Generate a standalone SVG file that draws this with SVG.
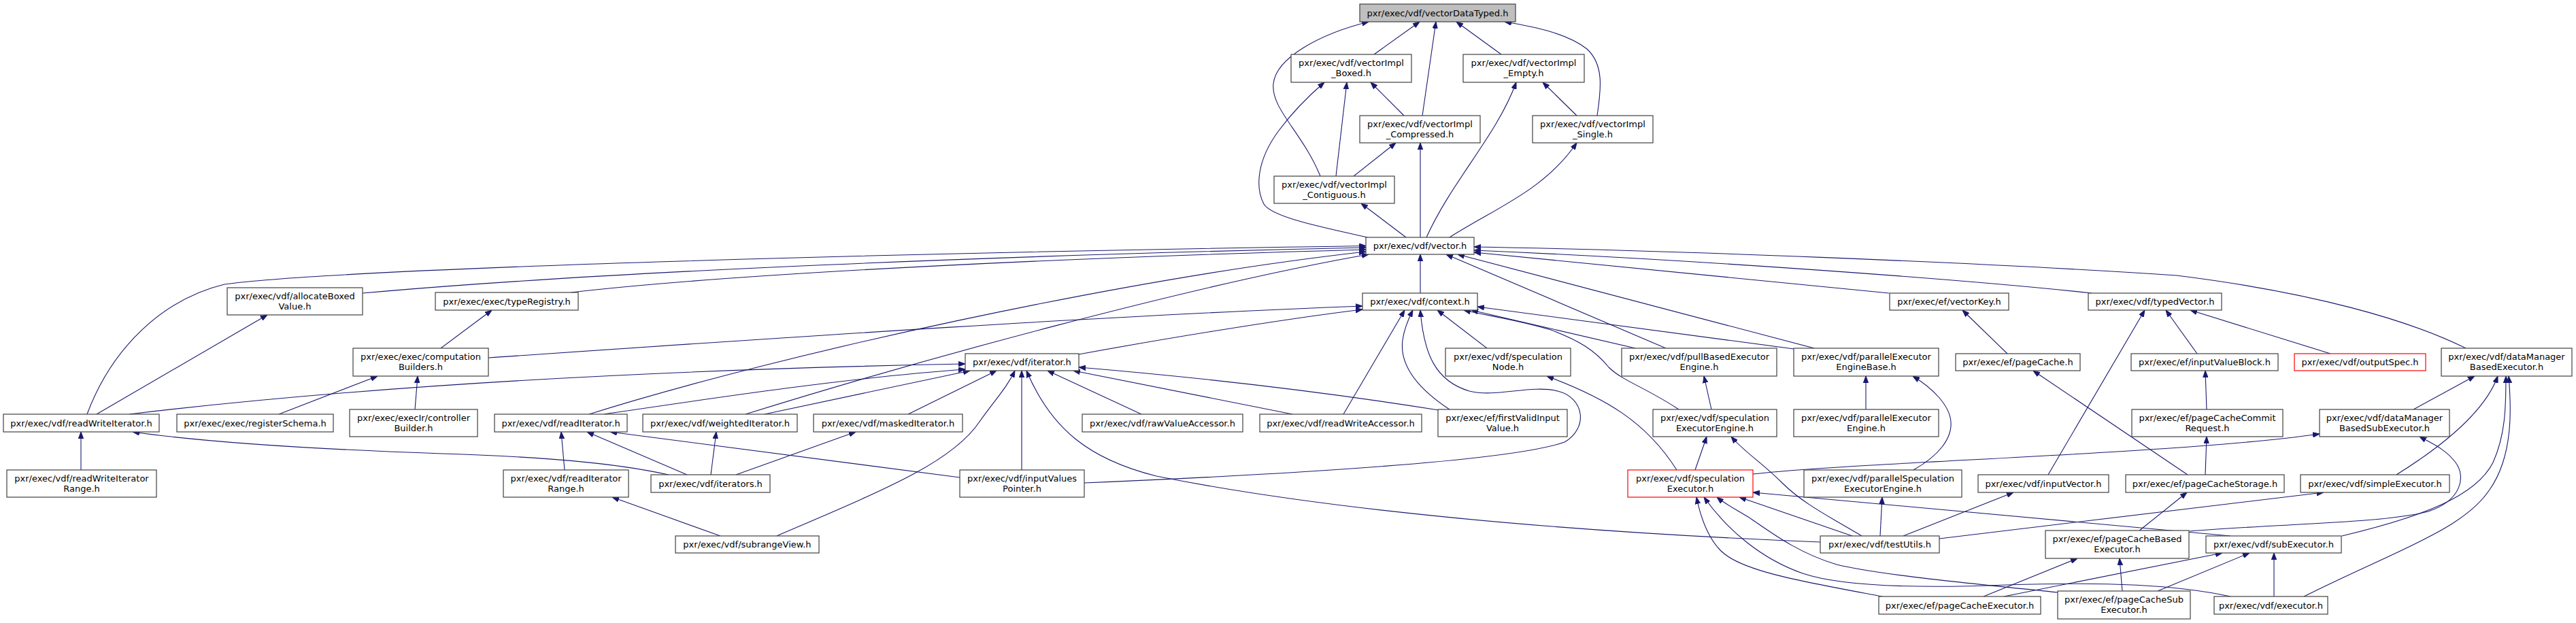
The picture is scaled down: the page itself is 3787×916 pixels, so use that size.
<svg xmlns="http://www.w3.org/2000/svg" width="3787" height="916" viewBox="0 0 3787 916">
<defs>
<marker id="a" markerWidth="10" markerHeight="8" refX="10" refY="4" orient="auto" markerUnits="userSpaceOnUse" viewBox="0 0 10 8"><path d="M0,0.3 L10,4 L0,7.7 z" fill="#191970" stroke="#191970" stroke-width="1"/></marker>
</defs>
<style>
.n rect{fill:#fff;stroke:#404040;stroke-width:1.2}
.root rect{fill:#bfbfbf}
.red rect{stroke:#ff0000}
text{font-family:"DejaVu Sans","Liberation Sans",sans-serif;font-size:13px;text-anchor:middle;fill:#000}
.e path{fill:none;stroke:#191970;stroke-width:1.1;marker-end:url(#a)}
</style>
<rect x="0" y="0" width="3787" height="916" fill="#fff"/>
<g class="e" id="edges">
<path d="M2020,80 L2087,32"/>
<path d="M2091,170 L2111,32"/>
<path d="M2207,80 L2141,32"/>
<path d="M2348,170 C2354,130 2358,95 2333,72 C2305,50 2260,40 2212,32"/>
<path d="M1941,259 C1915,195 1868,160 1872,123 C1876,85 1940,50 2012,32"/>
<path d="M2064,170 L2015,121"/>
<path d="M1964,259 L1980,121"/>
<path d="M1990,259 L2052,210"/>
<path d="M2318,170 L2268,121"/>
<path d="M2010,349 C1950,335 1870,320 1858,300 C1845,275 1848,235 1880,192 C1900,165 1925,140 1947,121"/>
<path d="M2067,349 L2001,299"/>
<path d="M2088,349 L2088,210"/>
<path d="M2097,349 C2135,265 2200,200 2229,121"/>
<path d="M2131,349 C2200,305 2270,280 2318,210"/>
<path d="M128,609 C165,510 240,440 330,418 C500,395 1300,372 2008,361.5"/>
<path d="M533,431 C900,398 1500,375 2008,364"/>
<path d="M839,430 C1100,400 1600,378 2008,367"/>
<path d="M866,609 C1150,520 1650,410 2008,370"/>
<path d="M1096,609 C1350,530 1750,420 2012,374"/>
<path d="M2088,431 L2088,374"/>
<path d="M2449,512 L2126,374"/>
<path d="M2667,512 L2143,374"/>
<path d="M2777,431 L2167,371"/>
<path d="M3075,431 C2900,412 2500,382 2167,368"/>
<path d="M3625,512 C3540,470 3400,430 3200,405 C2900,385 2450,368 2167,363"/>
<path d="M718,526 C1100,500 1600,465 2003,450"/>
<path d="M1586,521 C1700,500 1880,470 2003,455"/>
<path d="M1975,609 L2065,456"/>
<path d="M2131,602 C2075,565 2058,530 2062,500 C2064,485 2070,470 2077,456"/>
<path d="M1594,710 C1950,695 2230,675 2300,650 C2335,630 2330,585 2290,575 C2250,565 2200,585 2160,575 C2110,560 2093,520 2088,456"/>
<path d="M2186,512 L2113,456"/>
<path d="M2468,602 C2420,570 2385,560 2365,540 C2345,515 2320,500 2280,485 C2230,470 2190,465 2152,456"/>
<path d="M2404,512 L2163,456"/>
<path d="M2637,513 L2172,451"/>
<path d="M190,609 C500,572 900,545 1419,535"/>
<path d="M888,609 C1050,585 1250,555 1419,543"/>
<path d="M1124,609 L1426,545"/>
<path d="M1335,609 L1465,545"/>
<path d="M1142,788 C1300,720 1400,680 1440,620 C1465,585 1480,570 1492,545"/>
<path d="M1502,691 L1502,545"/>
<path d="M2676,797 C2300,782 1950,750 1700,700 C1600,675 1545,630 1509,545"/>
<path d="M1678,609 L1540,545"/>
<path d="M1900,609 L1578,545"/>
<path d="M2115,603 C1990,583 1800,558 1586,540"/>
<path d="M142,609 L393,463"/>
<path d="M648,512 L723,456"/>
<path d="M410,609 L555,553"/>
<path d="M610,602 L614,553"/>
<path d="M119,691 L119,635"/>
<path d="M830,691 L825,635"/>
<path d="M983,698 C900,680 800,672 650,667 C450,660 300,650 195,635"/>
<path d="M1010,698 L863,635"/>
<path d="M1045,698 L1053,635"/>
<path d="M1082,698 L1258,635"/>
<path d="M1411,702 L897,635"/>
<path d="M1059,788 L900,731"/>
<path d="M2465,691 C2420,620 2360,585 2274,553"/>
<path d="M2516,602 L2505,553"/>
<path d="M2743,602 L2743,553"/>
<path d="M2813,691 C2850,670 2870,645 2868,620 C2866,595 2840,570 2812,553"/>
<path d="M2492,691 L2509,642"/>
<path d="M2737,788 C2690,760 2650,740 2620,710 C2590,680 2565,665 2545,642"/>
<path d="M2577,697 C2750,678 3200,668 3410,638"/>
<path d="M2723,788 L2557,731"/>
<path d="M2764,788 L2767,731"/>
<path d="M3279,788 L2577,724"/>
<path d="M2767,877 C2650,855 2560,840 2530,810 C2510,790 2500,760 2494,731"/>
<path d="M3025,871 C2900,858 2760,845 2700,830 C2640,812 2600,780 2570,760 C2550,748 2535,740 2524,731"/>
<path d="M3279,877 C3200,860 3100,855 2950,860 C2800,866 2700,860 2650,843 C2590,822 2540,780 2505,731"/>
<path d="M3548,602 L3638,553"/>
<path d="M3523,698 C3600,650 3655,600 3672,553"/>
<path d="M3443,788 C3560,760 3640,730 3665,680 C3683,640 3684,600 3684,553"/>
<path d="M3387,877 C3520,810 3620,780 3660,720 C3695,670 3692,600 3688,553"/>
<path d="M3219,781 C3350,770 3500,770 3570,752 C3620,735 3625,700 3610,680 C3595,660 3575,652 3557,642"/>
<path d="M2951,520 L2885,456"/>
<path d="M3011,698 L3153,456"/>
<path d="M3230,520 L3184,456"/>
<path d="M3426,520 L3220,456"/>
<path d="M3244,602 L3242,545"/>
<path d="M3216,698 L2989,545"/>
<path d="M3242,698 L3244,642"/>
<path d="M2798,788 L2960,724"/>
<path d="M2851,792 C3000,775 3200,750 3416,724"/>
<path d="M3144,781 L3215,724"/>
<path d="M2916,877 L3054,821"/>
<path d="M3120,869 L3116,821"/>
<path d="M2946,877 L3267,813"/>
<path d="M3172,869 L3307,813"/>
<path d="M3343,877 L3343,813"/>
</g>
<g id="vectorDataTyped" class="n root"><rect x="1999" y="6" width="229" height="26"/><text x="2113.5" y="23.5">pxr/exec/vdf/vectorDataTyped.h</text></g>
<g id="vectorImpl_Boxed" class="n"><rect x="1898" y="80" width="177" height="41"/><text x="1986.5" y="97">pxr/exec/vdf/vectorImpl</text><text x="1986.5" y="112">_Boxed.h</text></g>
<g id="vectorImpl_Empty" class="n"><rect x="2151" y="80" width="178" height="41"/><text x="2240" y="97">pxr/exec/vdf/vectorImpl</text><text x="2240" y="112">_Empty.h</text></g>
<g id="vectorImpl_Compressed" class="n"><rect x="1999" y="170" width="177" height="40"/><text x="2087.5" y="186.5">pxr/exec/vdf/vectorImpl</text><text x="2087.5" y="201.5">_Compressed.h</text></g>
<g id="vectorImpl_Single" class="n"><rect x="2253" y="170" width="177" height="40"/><text x="2341.5" y="186.5">pxr/exec/vdf/vectorImpl</text><text x="2341.5" y="201.5">_Single.h</text></g>
<g id="vectorImpl_Contiguous" class="n"><rect x="1873" y="259" width="177" height="40"/><text x="1961.5" y="275.5">pxr/exec/vdf/vectorImpl</text><text x="1961.5" y="290.5">_Contiguous.h</text></g>
<g id="vector" class="n"><rect x="2008" y="349" width="159" height="25"/><text x="2087.5" y="366">pxr/exec/vdf/vector.h</text></g>
<g id="allocateBoxedValue" class="n"><rect x="334" y="423" width="199" height="40"/><text x="433.5" y="439.5">pxr/exec/vdf/allocateBoxed</text><text x="433.5" y="454.5">Value.h</text></g>
<g id="typeRegistry" class="n"><rect x="640" y="430" width="210" height="26"/><text x="745" y="447.5">pxr/exec/exec/typeRegistry.h</text></g>
<g id="context" class="n"><rect x="2003" y="431" width="169" height="25"/><text x="2087.5" y="448">pxr/exec/vdf/context.h</text></g>
<g id="vectorKey" class="n"><rect x="2778" y="431" width="175" height="25"/><text x="2865.5" y="448">pxr/exec/ef/vectorKey.h</text></g>
<g id="typedVector" class="n"><rect x="3070" y="431" width="196" height="25"/><text x="3168" y="448">pxr/exec/vdf/typedVector.h</text></g>
<g id="computationBuilders" class="n"><rect x="519" y="512" width="199" height="41"/><text x="618.5" y="529">pxr/exec/exec/computation</text><text x="618.5" y="544">Builders.h</text></g>
<g id="iterator" class="n"><rect x="1419" y="520" width="167" height="25"/><text x="1502.5" y="537">pxr/exec/vdf/iterator.h</text></g>
<g id="speculationNode" class="n"><rect x="2125" y="512" width="184" height="41"/><text x="2217" y="529">pxr/exec/vdf/speculation</text><text x="2217" y="544">Node.h</text></g>
<g id="pullBasedExecutorEngine" class="n"><rect x="2384" y="512" width="228" height="41"/><text x="2498" y="529">pxr/exec/vdf/pullBasedExecutor</text><text x="2498" y="544">Engine.h</text></g>
<g id="parallelExecutorEngineBase" class="n"><rect x="2637" y="512" width="213" height="41"/><text x="2743.5" y="529">pxr/exec/vdf/parallelExecutor</text><text x="2743.5" y="544">EngineBase.h</text></g>
<g id="pageCache" class="n"><rect x="2875" y="520" width="183" height="25"/><text x="2966.5" y="537">pxr/exec/ef/pageCache.h</text></g>
<g id="inputValueBlock" class="n"><rect x="3133" y="520" width="216" height="25"/><text x="3241" y="537">pxr/exec/ef/inputValueBlock.h</text></g>
<g id="outputSpec" class="n red"><rect x="3373" y="520" width="193" height="25"/><text x="3469.5" y="537">pxr/exec/vdf/outputSpec.h</text></g>
<g id="dataManagerBasedExecutor" class="n"><rect x="3589" y="512" width="192" height="41"/><text x="3685" y="529">pxr/exec/vdf/dataManager</text><text x="3685" y="544">BasedExecutor.h</text></g>
<g id="readWriteIterator" class="n"><rect x="5" y="609" width="229" height="26"/><text x="119.5" y="626.5">pxr/exec/vdf/readWriteIterator.h</text></g>
<g id="registerSchema" class="n"><rect x="260" y="609" width="230" height="26"/><text x="375" y="626.5">pxr/exec/exec/registerSchema.h</text></g>
<g id="controllerBuilder" class="n"><rect x="514" y="602" width="188" height="40"/><text x="608" y="618.5">pxr/exec/execIr/controller</text><text x="608" y="633.5">Builder.h</text></g>
<g id="readIterator" class="n"><rect x="727" y="609" width="195" height="26"/><text x="824.5" y="626.5">pxr/exec/vdf/readIterator.h</text></g>
<g id="weightedIterator" class="n"><rect x="945" y="609" width="227" height="26"/><text x="1058.5" y="626.5">pxr/exec/vdf/weightedIterator.h</text></g>
<g id="maskedIterator" class="n"><rect x="1196" y="609" width="219" height="26"/><text x="1305.5" y="626.5">pxr/exec/vdf/maskedIterator.h</text></g>
<g id="rawValueAccessor" class="n"><rect x="1591" y="609" width="236" height="26"/><text x="1709" y="626.5">pxr/exec/vdf/rawValueAccessor.h</text></g>
<g id="readWriteAccessor" class="n"><rect x="1852" y="609" width="238" height="26"/><text x="1971" y="626.5">pxr/exec/vdf/readWriteAccessor.h</text></g>
<g id="firstValidInputValue" class="n"><rect x="2114" y="602" width="190" height="40"/><text x="2209" y="618.5">pxr/exec/ef/firstValidInput</text><text x="2209" y="633.5">Value.h</text></g>
<g id="speculationExecutorEngine" class="n"><rect x="2430" y="602" width="182" height="40"/><text x="2521" y="618.5">pxr/exec/vdf/speculation</text><text x="2521" y="633.5">ExecutorEngine.h</text></g>
<g id="parallelExecutorEngine" class="n"><rect x="2637" y="602" width="213" height="40"/><text x="2743.5" y="618.5">pxr/exec/vdf/parallelExecutor</text><text x="2743.5" y="633.5">Engine.h</text></g>
<g id="pageCacheCommitRequest" class="n"><rect x="3134" y="602" width="222" height="40"/><text x="3245" y="618.5">pxr/exec/ef/pageCacheCommit</text><text x="3245" y="633.5">Request.h</text></g>
<g id="dataManagerBasedSubExecutor" class="n"><rect x="3410" y="602" width="191" height="40"/><text x="3505.5" y="618.5">pxr/exec/vdf/dataManager</text><text x="3505.5" y="633.5">BasedSubExecutor.h</text></g>
<g id="readWriteIteratorRange" class="n"><rect x="10" y="691" width="220" height="40"/><text x="120" y="707.5">pxr/exec/vdf/readWriteIterator</text><text x="120" y="722.5">Range.h</text></g>
<g id="readIteratorRange" class="n"><rect x="740" y="691" width="184" height="40"/><text x="832" y="707.5">pxr/exec/vdf/readIterator</text><text x="832" y="722.5">Range.h</text></g>
<g id="iterators" class="n"><rect x="957" y="698" width="175" height="26"/><text x="1044.5" y="715.5">pxr/exec/vdf/iterators.h</text></g>
<g id="inputValuesPointer" class="n"><rect x="1411" y="691" width="183" height="40"/><text x="1502.5" y="707.5">pxr/exec/vdf/inputValues</text><text x="1502.5" y="722.5">Pointer.h</text></g>
<g id="speculationExecutor" class="n red"><rect x="2393" y="691" width="184" height="40"/><text x="2485" y="707.5">pxr/exec/vdf/speculation</text><text x="2485" y="722.5">Executor.h</text></g>
<g id="parallelSpeculationExecutorEngine" class="n"><rect x="2652" y="691" width="232" height="40"/><text x="2768" y="707.5">pxr/exec/vdf/parallelSpeculation</text><text x="2768" y="722.5">ExecutorEngine.h</text></g>
<g id="inputVector" class="n"><rect x="2908" y="698" width="192" height="26"/><text x="3004" y="715.5">pxr/exec/vdf/inputVector.h</text></g>
<g id="pageCacheStorage" class="n"><rect x="3125" y="698" width="233" height="26"/><text x="3241.5" y="715.5">pxr/exec/ef/pageCacheStorage.h</text></g>
<g id="simpleExecutor" class="n"><rect x="3382" y="698" width="219" height="26"/><text x="3491.5" y="715.5">pxr/exec/vdf/simpleExecutor.h</text></g>
<g id="subrangeView" class="n"><rect x="993" y="788" width="211" height="25"/><text x="1098.5" y="805">pxr/exec/vdf/subrangeView.h</text></g>
<g id="testUtils" class="n"><rect x="2676" y="788" width="175" height="25"/><text x="2763.5" y="805">pxr/exec/vdf/testUtils.h</text></g>
<g id="pageCacheBasedExecutor" class="n"><rect x="3007" y="780" width="211" height="41"/><text x="3112.5" y="797">pxr/exec/ef/pageCacheBased</text><text x="3112.5" y="812">Executor.h</text></g>
<g id="subExecutor" class="n"><rect x="3243" y="788" width="199" height="25"/><text x="3342.5" y="805">pxr/exec/vdf/subExecutor.h</text></g>
<g id="pageCacheExecutor" class="n"><rect x="2762" y="877" width="238" height="26"/><text x="2881" y="894.5">pxr/exec/ef/pageCacheExecutor.h</text></g>
<g id="pageCacheSubExecutor" class="n"><rect x="3025" y="869" width="195" height="41"/><text x="3122.5" y="886">pxr/exec/ef/pageCacheSub</text><text x="3122.5" y="901">Executor.h</text></g>
<g id="executor" class="n"><rect x="3255" y="877" width="167" height="26"/><text x="3338.5" y="894.5">pxr/exec/vdf/executor.h</text></g>
</svg>
